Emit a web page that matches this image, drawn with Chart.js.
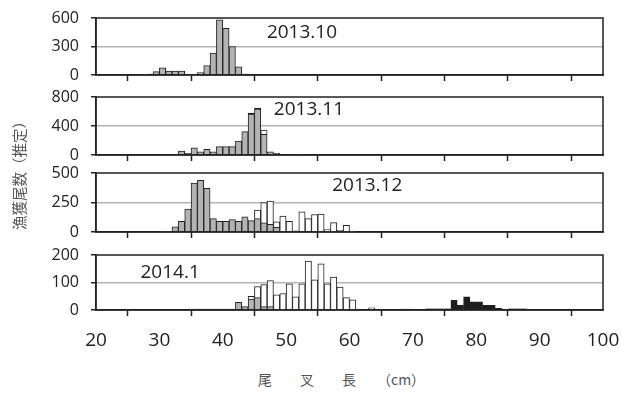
<!DOCTYPE html>
<html>
<head>
<meta charset="utf-8">
<script src="https://cdn.jsdelivr.net/npm/chart.js@4.4.1/dist/chart.umd.min.js"></script>
<style>
  body { margin: 0; background: #fff; }
  #wrap { position: relative; width: 622px; height: 398px; overflow: hidden; }
  #wrap canvas { position: absolute; left: 0; }
  .ytitle { position: absolute; left: 18px; top: 172px; transform: translate(-50%, -50%) rotate(-90deg);
            white-space: nowrap; font-family: "Noto Sans CJK JP"; font-size: 14.5px; color: #555;
            filter: grayscale(100%); }
  .xtitle { position: absolute; left: 258px; top: 370px; white-space: nowrap;
            font-family: "Noto Sans CJK JP"; font-size: 14px; line-height: 18px; color: #555; }
</style>
</head>
<body>
<div id="wrap">
  <div class="ytitle">漁獲尾数（推定）</div>
  <div class="xtitle">尾　　叉　　長　　（cm）</div>
</div>
<script>
// fork length bins are 1 cm wide, each series starts at its own bin
const oct13Start = 27;
const oct13Gray = [5, 10, 35, 75, 40, 40, 40, 5, 5, 25, 100, 230, 580, 490, 300, 85, 10, 0, 0, 5];

const nov13Start = 31;
const nov13Gray = [10, 10, 55, 23, 100, 45, 78, 45, 115, 115, 115, 193, 322, 566, 634, 285, 45, 23, 0, 0, 8, 8];
const nov13WhiteStart = 46;
const nov13White = [60];
const nov13BlackStart = 44;
const nov13Black = [12, 12];

const dec13GrayStart = 30;
const dec13Gray = [5, 5, 43, 91, 194, 414, 437, 371, 114, 91, 91, 106, 91, 128, 97, 114, 77, 66, 40];
const dec13WhiteStart = 45;
const dec13White = [72, 172, 197, 46, 135, 91, 10, 171, 114, 148, 151, 20, 80, 15, 57, 5];
const dec13BlackStart = 77;
const dec13Black = [5, 0, 0, 0, 5];

const jan14GrayStart = 42;
const jan14Gray = [28, 12, 40, 45, 12, 12];
const jan14WhiteStart = 44;
const jan14White = [10, 40, 80, 95, 55, 60, 95, 48, 95, 178, 110, 168, 95, 120, 83, 45, 37, 0, 0, 8];
const jan14BlackLowStart = 35;
const jan14BlackLow = [3, 3, 3, 3, 3, 3, 3];
const jan14BlackStart = 68;
const jan14Black = [3, 3, 0, 0, 4, 4, 4, 4, 35, 18, 48, 30, 30, 17, 17, 6, 0, 4, 4, 4];

const xMin = 20, xMax = 100, xStep = 10;

function seg(start, vals) {
  return vals.map((v, i) => ({ x: start + i + 0.5, y: v }));
}

const panels = [
  { top: 18, bottom: 75, max: 600, label: '2013.10', labelAt: [52.5, 442],
    gray: seg(oct13Start, oct13Gray), white: [], black: [], showX: false },
  { top: 97, bottom: 155, max: 800, label: '2013.11', labelAt: [53.6, 621],
    gray: seg(nov13Start, nov13Gray), white: seg(nov13WhiteStart, nov13White),
    black: seg(nov13BlackStart, nov13Black), showX: false },
  { top: 173, bottom: 232, max: 500, label: '2013.12', labelAt: [62.8, 390],
    gray: seg(dec13GrayStart, dec13Gray), white: seg(dec13WhiteStart, dec13White),
    black: seg(dec13BlackStart, dec13Black), showX: false },
  { top: 255, bottom: 310, max: 200, label: '2014.1', labelAt: [31.7, 135],
    gray: seg(jan14GrayStart, jan14Gray), white: seg(jan14WhiteStart, jan14White),
    black: seg(jan14BlackLowStart, jan14BlackLow).concat(seg(jan14BlackStart, jan14Black)), showX: true }
];

const boxPlugin = {
  id: 'box',
  afterDraw(chart) {
    const a = chart.chartArea, c = chart.ctx;
    c.save();
    c.strokeStyle = '#222';
    c.lineWidth = 1.5;
    c.strokeRect(a.left, a.top, a.right - a.left, a.bottom - a.top);
    c.restore();
  }
};

const labelPlugin = {
  id: 'panelLabel',
  afterDatasetsDraw(chart, args, opts) {
    const c = chart.ctx;
    c.save();
    c.font = '19px "Open Sans"';
    c.fillStyle = '#222';
    c.textAlign = 'center';
    c.textBaseline = 'middle';
    c.fillText(opts.text, chart.scales.x.getPixelForValue(opts.at[0]), chart.scales.y.getPixelForValue(opts.at[1]));
    c.restore();
  }
};

const wrap = document.getElementById('wrap');

panels.forEach(p => {
  const xh = p.showX ? 50 : 10;
  const cv = document.createElement('canvas');
  cv.width = 622;
  cv.height = 10 + (p.bottom - p.top) + xh;
  cv.style.top = (p.top - 10) + 'px';
  wrap.appendChild(cv);

  const bar = { borderColor: '#222', borderWidth: 1, barPercentage: 1, categoryPercentage: 1 };

  new Chart(cv, {
    type: 'bar',
    data: {
      datasets: [
        Object.assign({ data: p.gray, backgroundColor: '#b3b3b3' }, bar),
        Object.assign({ data: p.white, backgroundColor: '#ffffff' }, bar),
        Object.assign({ data: p.black, backgroundColor: '#1c1c1c' }, bar)
      ]
    },
    options: {
      responsive: false,
      animation: false,
      devicePixelRatio: 1,
      layout: { padding: { top: 10, left: 0, right: 19, bottom: 0 } },
      plugins: {
        legend: { display: false },
        tooltip: { enabled: false },
        panelLabel: { text: p.label, at: p.labelAt }
      },
      scales: {
        x: {
          type: 'linear', min: xMin, max: xMax, offset: false, stacked: true,
          ticks: { stepSize: xStep, display: p.showX, padding: 13, color: '#222',
                   font: { size: 19, family: 'Open Sans' } },
          grid: { drawOnChartArea: false, drawTicks: true, tickLength: 6, tickColor: '#222', tickWidth: 1.5 },
          border: { color: '#222', width: 1.5 },
          afterFit: s => {
            s.height = xh;
            s.paddingLeft = s.paddingRight = s.paddingTop = s.paddingBottom = 0;
          }
        },
        y: {
          min: 0, max: p.max, stacked: true,
          ticks: { stepSize: p.max / 2, padding: 12, color: '#222',
                   font: { size: 16, family: 'Open Sans' } },
          grid: { color: c => (c.tick && c.tick.value === p.max / 2) ? '#b4b4b4' : 'rgba(0,0,0,0)',
                  lineWidth: 1.5, tickColor: '#222', tickLength: 5, tickWidth: 1.5 },
          border: { color: '#222', width: 1.5 },
          afterFit: s => {
            s.width = 96;
            s.paddingLeft = s.paddingRight = s.paddingTop = s.paddingBottom = 0;
          }
        }
      }
    },
    plugins: [boxPlugin, labelPlugin]
  });
});
</script>
</body>
</html>
